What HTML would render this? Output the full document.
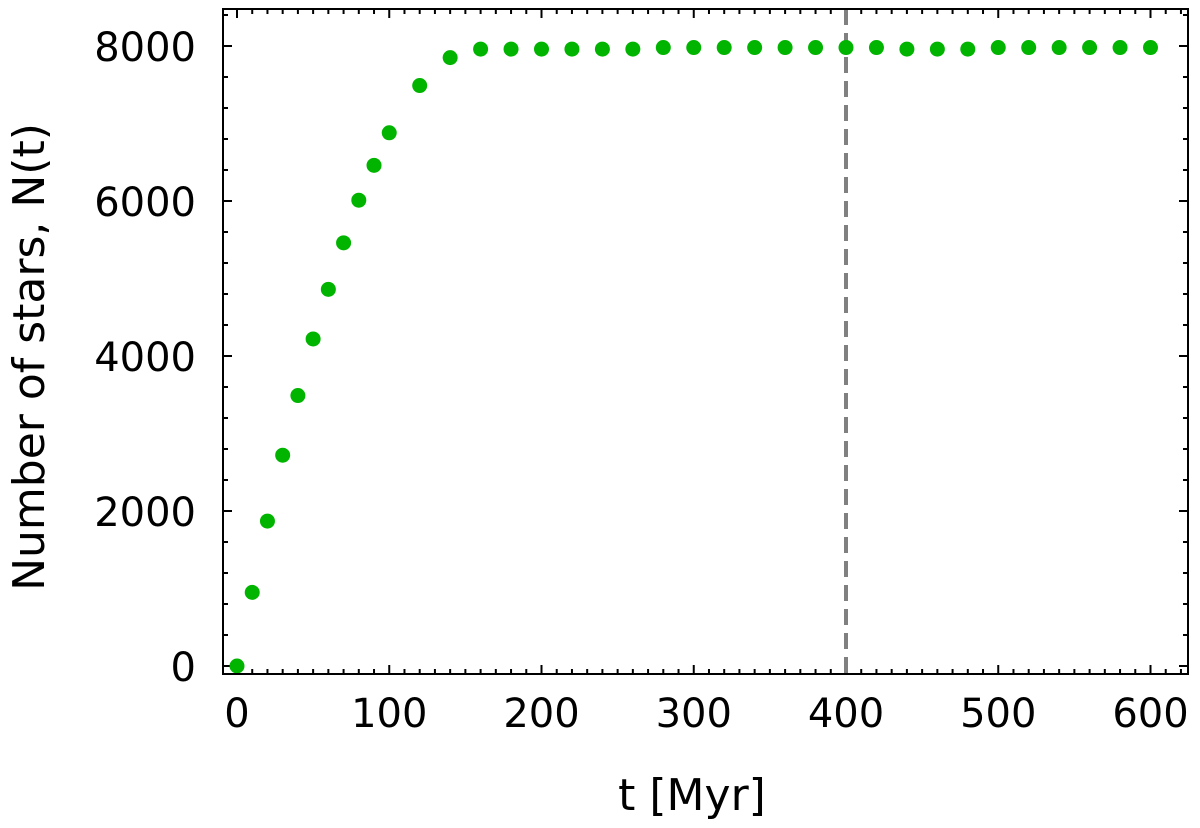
<!DOCTYPE html>
<html><head><meta charset="utf-8"><style>
body{margin:0;background:#fff;}
svg text{font-family:"DejaVu Sans","Liberation Sans",sans-serif;fill:#000;}
</style></head><body>
<svg id="chart" width="1200" height="823" xmlns="http://www.w3.org/2000/svg">
<g id="ax"></g>
</svg>
<script>
const tValues=[0,10,20,30,40,50,60,70,80,90,100,120,140,160,180,200,220,240,260,280,300,320,340,360,380,400,420,440,460,480,500,520,540,560,580,600];
const nValues=[0,950,1870,2720,3490,4220,4860,5460,6010,6460,6880,7490,7850,7960,7960,7960,7960,7960,7960,7980,7980,7980,7980,7980,7980,7980,7980,7960,7960,7960,7980,7980,7980,7980,7980,7980];
const xTicks=[0,100,200,300,400,500,600];
const yTicks=[0,2000,4000,6000,8000];
const vLine=[400];
const L=223,R=1188,T=9,B=674;
const sx=v=>237+1.5225*v, sy=v=>666-0.0775*v;
const NS="http://www.w3.org/2000/svg";
const g=document.getElementById('ax');
function el(tag,attrs){const e=document.createElementNS(NS,tag);for(const k in attrs)e.setAttribute(k,attrs[k]);g.appendChild(e);return e;}
// minor x ticks
for(let v=-0;v<=620;v+=10){const x=sx(v);if(x>R)break;const major=v%100===0;
const a=el('line',{x1:x,x2:x,y1:B,y2:B-(major?9:5),stroke:'#000','stroke-width':2});

const b=el('line',{x1:x,x2:x,y1:T,y2:T+(major?9:5),stroke:'#000','stroke-width':2});
}
for(let v=0;v<=8400;v+=400){const y=sy(v);if(y<T)break;const major=v%2000===0;
const a=el('line',{x1:L,x2:L+(major?9:5),y1:y,y2:y,stroke:'#000','stroke-width':2});

const b=el('line',{x1:R,x2:R-(major?9:5),y1:y,y2:y,stroke:'#000','stroke-width':2});
}
xTicks.forEach(v=>{const t=el('text',{x:sx(v),y:727,'font-size':40,'text-anchor':'middle'});t.textContent=v;
});
yTicks.forEach(v=>{const t=el('text',{x:196,y:sy(v)+15,'font-size':40,'text-anchor':'end'});t.textContent=v;
});
vLine.forEach(v=>{const l=el('line',{x1:sx(v),x2:sx(v),y1:T,y2:B,stroke:'#808080','stroke-width':4,'stroke-dasharray':'16,8'});
});
tValues.forEach((t,i)=>{const c=el('circle',{cx:sx(t),cy:sy(nValues[i]),r:7.5,fill:'#00b400'});
});
const f=el('rect',{x:L,y:T,width:R-L,height:B-T,fill:'none',stroke:'#000','stroke-width':2});

const xt=el('text',{x:692,y:810,'font-size':44,'text-anchor':'middle'});xt.textContent='t [Myr]';

const yt=el('text',{x:0,y:0,'font-size':44,'text-anchor':'middle',transform:'translate(44,357) rotate(-90)'});yt.textContent='Number of stars,  N(t)';

</script>
</body></html>
